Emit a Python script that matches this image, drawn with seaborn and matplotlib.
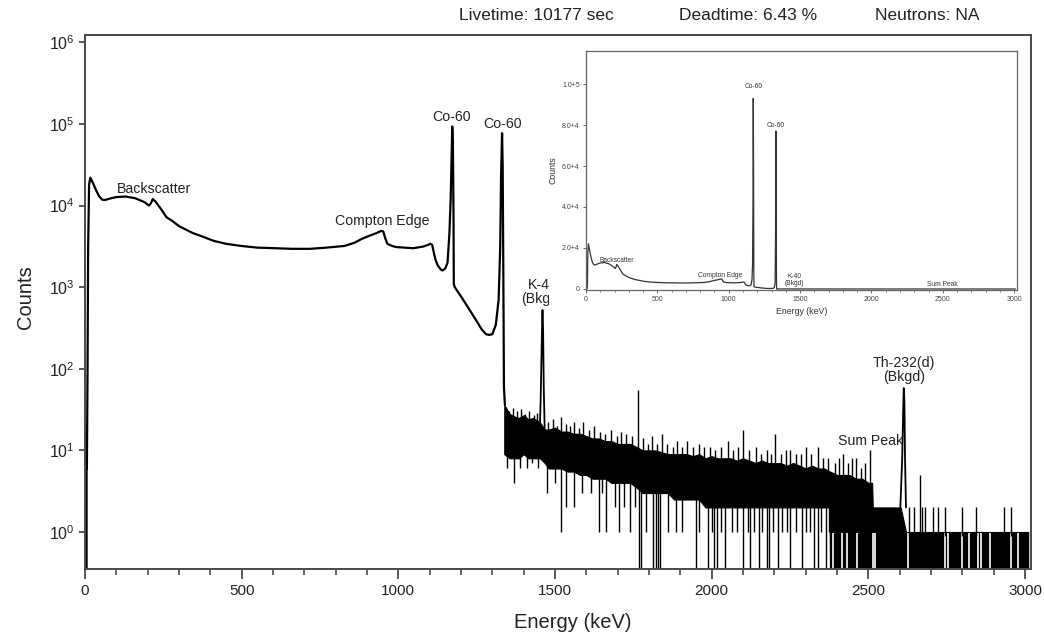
import numpy as np
import pandas as pd
import seaborn as sns
import matplotlib
matplotlib.use("Agg")
import matplotlib.pyplot as plt
from matplotlib.ticker import FixedLocator, MultipleLocator, FuncFormatter, NullLocator

# ---------------- data ----------------
# smooth part of the spectrum (keV, counts)
cont_energy = [0, 2, 4, 5, 6, 8, 10, 13, 17, 25, 35, 45, 55, 64, 80, 100, 130, 160, 190, 204,
               210, 216, 225, 245, 260, 278, 300, 344, 380, 410, 450, 498, 550, 608, 660, 718,
               770, 828, 860, 883, 910, 930, 946, 952, 958, 965, 980, 993, 1020, 1048, 1080,
               1095, 1102, 1108, 1111, 1118, 1125, 1135, 1141, 1150, 1157, 1163, 1167, 1170,
               1172, 1174, 1176, 1177, 1180, 1201, 1234, 1267, 1280, 1290, 1300, 1311, 1320,
               1325, 1328, 1331, 1333, 1335, 1337, 1340]
cont_counts = [0, 2, 0, 15, 6, 80, 3000, 18000, 22000, 19000, 15500, 13000, 11800, 11700, 12200,
               12700, 12900, 12300, 11000, 10000, 10600, 12000, 11200, 8800, 7200, 6500, 5600,
               4600, 4100, 3700, 3400, 3200, 3050, 3000, 2950, 2950, 3050, 3200, 3500, 3900,
               4300, 4600, 4900, 4800, 4000, 3400, 3200, 3100, 3050, 3000, 3150, 3300, 3400,
               3300, 2900, 2200, 1870, 1650, 1600, 1700, 2000, 4600, 12000, 40000, 93000, 60000,
               8000, 1100, 1000, 760, 480, 300, 265, 260, 265, 345, 700, 3000, 25000, 77000,
               30000, 1500, 60, 36]

# background peaks in the noisy part
k40_energy = [1452, 1454, 1457, 1459, 1460, 1462, 1464, 1467]
k40_counts = [22, 40, 150, 400, 525, 300, 60, 18]
th_energy = [2602, 2605, 2608, 2611, 2613, 2615, 2617, 2620]
th_counts = [2, 4, 8, 30, 58, 40, 8, 2]

# envelope of the dense noisy band (keV, lower / upper counts; 0 = empty channels)
noise_energy = [1338, 1355, 1370, 1385, 1400, 1415, 1430, 1445, 1452, 1467, 1480, 1500, 1520,
                1540, 1560, 1580, 1600, 1620, 1640, 1660, 1680, 1700, 1720, 1740, 1760, 1780,
                1800, 1820, 1840, 1860, 1880, 1900, 1920, 1940, 1960, 1980, 2000, 2020, 2040,
                2060, 2080, 2100, 2120, 2140, 2160, 2180, 2200, 2220, 2240, 2260, 2280, 2300,
                2320, 2340, 2360, 2376, 2378, 2400, 2420, 2440, 2460, 2480, 2500, 2512, 2514,
                2560, 2603, 2620, 2700, 2800, 2900, 3010]
noise_low = [9, 8, 8, 8, 9, 8, 8, 8, 8, 7, 6, 6, 6, 5.5, 5.5, 5, 5, 4.5, 4.5, 4.5, 4, 4, 4, 4,
             3.5, 3, 3, 3, 3, 3, 2.5, 2.5, 2.5, 2.5, 2.5, 2, 2, 2, 2, 2, 2, 2, 2, 2, 2, 2, 2,
             2, 2, 2, 2, 2, 2, 2, 2, 2, 0, 0, 0, 0, 0, 0, 0, 0, 0, 0, 0, 0, 0, 0, 0, 0]
noise_high = [36, 28, 26, 25, 27, 24, 25, 23, 22, 18, 18, 19, 17, 17, 16, 16, 15, 14, 14, 13,
              13, 12, 12, 12, 11, 10, 10, 10, 9.5, 9, 9, 9, 9, 8.5, 9, 8, 8.5, 8, 8, 8, 7.5,
              8, 7.5, 7, 7.5, 7, 7, 7, 6.5, 7, 6.5, 6, 6.5, 6, 6, 5.5, 5.5, 5, 5, 5, 4.5, 4.5,
              4, 4, 2, 2, 2, 1, 1, 1, 1, 1]

# isolated upward spikes (keV, counts)
spike_energy = [1345, 1352, 1365, 1378, 1392, 1405, 1418, 1433, 1441,
                1478, 1492, 1505, 1519, 1536, 1548, 1560, 1575, 1590,
                1610, 1625, 1645, 1660, 1680, 1697, 1710, 1725, 1745, 1765,
                1782, 1797, 1810, 1825, 1840, 1858, 1875, 1890, 1905, 1922, 1940, 1958, 1975,
                1995, 2012, 2030, 2052, 2068, 2085, 2100,
                2118, 2140, 2158, 2175, 2190, 2202, 2222, 2236, 2250, 2268, 2285, 2300, 2318,
                2338, 2355, 2372,
                2392, 2405, 2420, 2435, 2449, 2460, 2475, 2488, 2505,
                2630, 2645, 2665, 2672, 2682, 2705, 2722, 2745, 2800, 2843, 2932, 2955]
spike_counts = [34, 30, 33, 30, 32, 28, 30, 27, 29,
                22, 24, 20, 26, 21, 20, 22, 19, 22,
                18, 20, 17, 16, 18, 15, 17, 16, 15, 55,
                14, 12, 15, 12, 16, 12, 11, 13, 11, 13, 11, 12, 11,
                11, 10, 11, 13, 10, 11, 18,
                10, 11, 9, 10, 9, 16, 9, 10, 10, 9, 9, 11, 9,
                11, 8, 8,
                7, 8, 9, 7, 8, 8, 6, 7, 10,
                2, 2, 5, 2, 2, 2, 2, 2, 2, 2, 2, 2]

# isolated downward spikes (keV, counts; 0 = empty channel)
drop_energy = [1348, 1370, 1388, 1410, 1425, 1447,
               1475, 1500, 1519, 1534, 1562, 1585,
               1615, 1639, 1650, 1662, 1690, 1705, 1720, 1738, 1755,
               1767, 1773, 1790, 1812, 1823, 1828, 1834, 1860, 1885, 1905, 1950, 1960, 1989,
               2000, 2006, 2017, 2030, 2044, 2065, 2080, 2100, 2115, 2122, 2135, 2150, 2160,
               2178, 2183, 2195, 2211, 2225, 2240, 2250, 2270, 2288, 2300, 2315, 2327, 2338,
               2350, 2366, 2375]
drop_counts = [6, 4, 6, 6, 7, 6,
               3, 4, 1, 2, 2, 3,
               3, 1, 3, 1, 2, 1, 2, 1, 2,
               0, 0, 1, 0, 0, 0, 0, 1, 1, 1, 0, 1, 0,
               1, 0, 0, 1, 0, 1, 1, 0, 1, 0, 1, 0, 1,
               0, 0, 1, 0, 1, 1, 0, 1, 0, 1, 1, 0, 0,
               1, 0, 1]

# channels where the count never falls to zero (white gaps in the 0/1 band)
full_energy = [2388, 2416, 2432, 2465, 2515, 2521, 2628, 2744, 2755, 2800, 2822, 2849, 2860,
               2888, 2955, 2977]

# labels
main_labels = ["Backscatter", "Compton Edge", "Co-60", "Co-60", "K-40\n(Bkgd)",
               "Sum Peak", "Th-232(d)\n(Bkgd)"]
main_label_x = [219, 949, 1171, 1331, 1460, 2506, 2614]
main_label_y = [1.6e4, 6.5e3, 1.22e5, 1.0e5, 870, 13.0, 97]
inset_labels = ["Backscatter", "Compton Edge", "Co-60", "Co-60", "K-40\n(Bkgd)", "Sum Peak"]
inset_label_x = [214, 940, 1172, 1332, 1458, 2495]
inset_label_y = [1.4e4, 6.8e3, 9.9e4, 8.0e4, 4.4e3, 2.0e3]
header_texts = ["Livetime: 10177 sec", "Deadtime: 6.43 %", "Neutrons: NA"]
x_major = [0, 500, 1000, 1500, 2000, 2500, 3000]
y_decades = [1e0, 1e1, 1e2, 1e3, 1e4, 1e5, 1e6]
inset_y_ticks = [0, 2e4, 4e4, 6e4, 8e4, 1e5]

# ---------------- style ----------------
sns.set_style("ticks")
plt.rcParams["font.family"] = ["Liberation Sans", "DejaVu Sans"]
plt.rcParams["mathtext.fontset"] = "custom"
plt.rcParams["mathtext.rm"] = "Liberation Sans"
plt.rcParams["mathtext.it"] = "Liberation Sans"
plt.rcParams["mathtext.default"] = "regular"
GRAY = "#4a4a4a"
TXT = "#222222"

W, H = 1044, 637
fig = plt.figure(figsize=(W / 100, H / 100), dpi=100)


def frac_box(l, t, r, b):
    return [l / W, 1 - b / H, (r - l) / W, (b - t) / H]


ax = fig.add_axes(frac_box(85, 35, 1031, 569))
sns.lineplot(x=cont_energy, y=cont_counts, ax=ax, color="black", linewidth=1.6,
             estimator=None, sort=False)
ax.set_yscale("log")
ymin, ymax = 0.352, 1.23e6
floor = 0.2

ne = np.array(noise_energy, float)
lo = np.array(noise_low, float)
hi = np.array(noise_high, float)
ax.fill_between(ne, np.where(lo > 0, lo, floor), hi, color="black", linewidth=0.8,
                edgecolor="black", zorder=2)
fe = np.array(full_energy, float)
ax.vlines(fe, floor, 0.97, color="white", linewidth=1.2, zorder=2.5)
sns.lineplot(x=k40_energy, y=k40_counts, ax=ax, color="black", linewidth=1.3,
             estimator=None, sort=False)
sns.lineplot(x=th_energy, y=th_counts, ax=ax, color="black", linewidth=1.3,
             estimator=None, sort=False)
se = np.array(spike_energy, float)
ax.vlines(se, np.interp(se, ne, hi) * 0.9, spike_counts, color="black", linewidth=1.0,
          zorder=3)
de = np.array(drop_energy, float)
dc = np.array(drop_counts, float)
ax.vlines(de, np.where(dc > 0, dc, floor), np.interp(de, ne, lo) * 1.1, color="black",
          linewidth=1.0, zorder=3)

ax.set_xlim(0, 3019)
ax.set_ylim(ymin, ymax)
ax.xaxis.set_major_locator(FixedLocator(x_major))
ax.xaxis.set_minor_locator(MultipleLocator(100))
ax.yaxis.set_major_locator(FixedLocator(y_decades))
ax.yaxis.set_minor_locator(NullLocator())
ax.yaxis.set_major_formatter(FuncFormatter(lambda v, p: r"$10^{%d}$" % round(np.log10(v))))
ax.tick_params(axis="x", which="major", direction="out", length=7, width=1.3, color=GRAY,
               labelsize=11, labelcolor=TXT, pad=4)
ax.tick_params(axis="x", which="minor", direction="out", length=4.5, width=1.2, color=GRAY)
ax.tick_params(axis="y", which="major", direction="out", length=4.5, width=1.3, color=GRAY,
               labelsize=11.5, labelcolor=TXT, pad=3)
for s in ax.spines.values():
    s.set_visible(True)
    s.set_color(GRAY)
    s.set_linewidth(1.4)
    s.set_zorder(4)
ax.set_xlabel("")
ax.set_ylabel("")

for t, x, y in zip(main_labels, main_label_x, main_label_y):
    ax.text(x, y, t, ha="center", va="center", fontsize=10.2, color=TXT, linespacing=1.0)

fig.text(25 / W, 1 - 297 / H, "Counts", rotation=90, ha="center", va="center",
         fontsize=14.5, color=TXT)
fig.text(573 / W, 1 - 622 / H, "Energy (keV)", ha="center", va="center", fontsize=14.5,
         color=TXT)
for t, x in zip(header_texts, [536, 748, 927]):
    fig.text(x / W, 1 - 15 / H, t, ha="center", va="center", fontsize=12.5, color=TXT)

# ---------------- inset ----------------
bg = fig.add_axes(frac_box(549, 40, 1029, 306))
bg.set_facecolor("white")
bg.set_xticks([])
bg.set_yticks([])
for s in bg.spines.values():
    s.set_visible(False)

ins = fig.add_axes(frac_box(586, 51, 1017, 290))
sns.lineplot(x=cont_energy, y=cont_counts, ax=ins, color="#333333", linewidth=0.9,
             estimator=None, sort=False)
sns.lineplot(x=noise_energy, y=noise_high, ax=ins, color="#333333", linewidth=0.9,
             estimator=None, sort=False)
ins.set_xlim(0, 3020)
ins.set_ylim(-490, 1.161e5)
ins.xaxis.set_major_locator(FixedLocator(x_major))
ins.xaxis.set_minor_locator(MultipleLocator(100))
ins.yaxis.set_major_locator(FixedLocator(inset_y_ticks))


def inset_fmt(v, p):
    if v == 0:
        return "0"
    e = int(np.floor(np.log10(v)))
    return "%.1f+%d" % (v / 10 ** e, e)


ins.yaxis.set_major_formatter(FuncFormatter(inset_fmt))
ins.tick_params(axis="both", which="major", direction="out", length=2.5, width=0.7,
                color="#666666", labelsize=5, labelcolor="#444444", pad=2)
ins.tick_params(axis="x", which="minor", direction="out", length=1.5, width=0.6,
                color="#666666")
for s in ins.spines.values():
    s.set_visible(True)
    s.set_color("#666666")
    s.set_linewidth(0.9)
ins.set_xlabel("Energy (keV)", fontsize=6.3, color="#333333", labelpad=3)
ins.set_ylabel("Counts", fontsize=6.3, color="#333333", labelpad=3)
for t, x, y in zip(inset_labels, inset_label_x, inset_label_y):
    ins.text(x, y, t, ha="center", va="center", fontsize=4.8, color="#333333",
             linespacing=1.0)

fig.savefig("out.png", dpi=100)
